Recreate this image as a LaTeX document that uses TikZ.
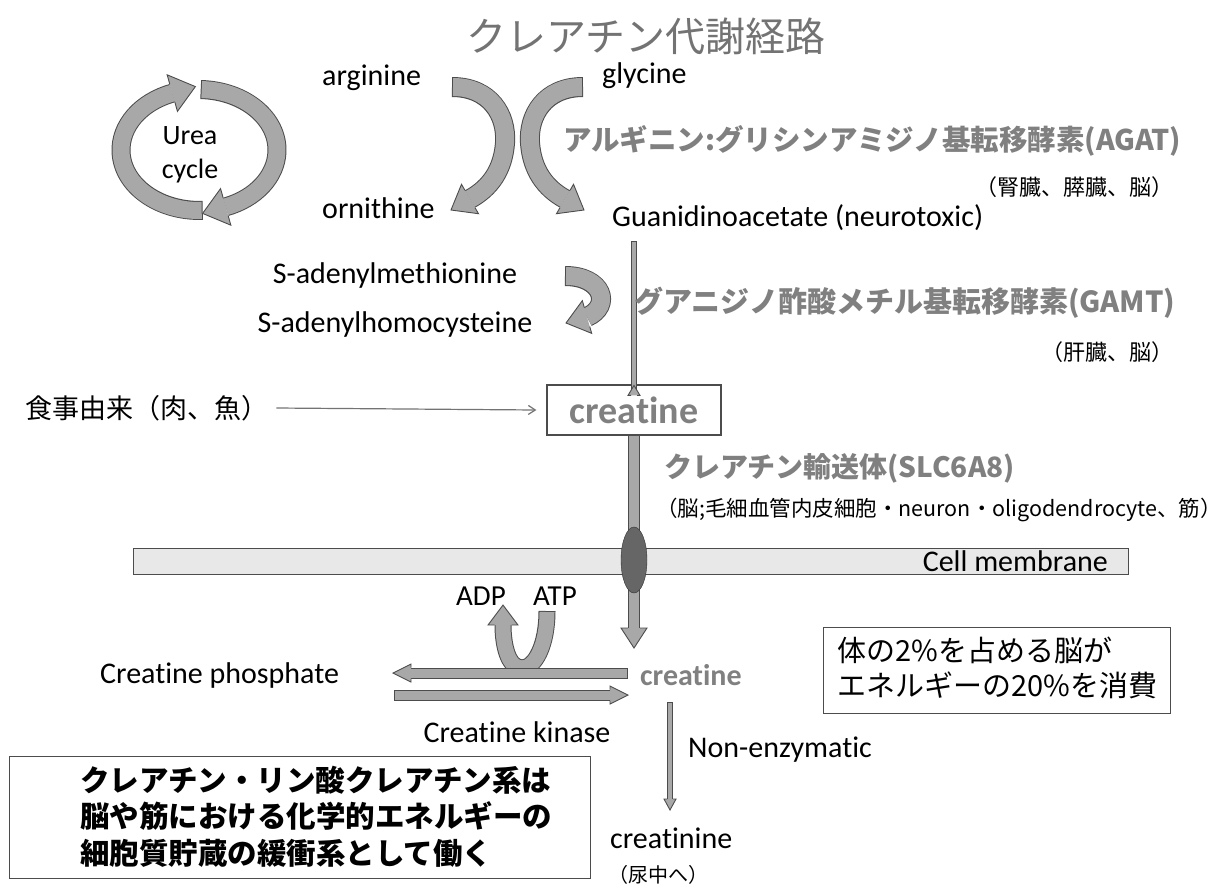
\documentclass[tikz,border=0pt]{standalone}
\usepackage{fontspec}
\setmainfont{Carlito}[Ligatures={NoCommon}]
\newfontfamily\jp{Noto Sans CJK JP}
\usetikzlibrary{arrows.meta,calc,shapes.geometric}
\definecolor{ag}{gray}{0.66}
\definecolor{ao}{gray}{0.3}
\definecolor{lg}{gray}{0.5}
\newcommand\fs[2]{\fontsize{#1}{#2}\selectfont}
\newcommand\ahead[4]{%
  \fill[ag] #2 -- ($#1!#3!90:#2$) -- ($#1!#3!-90:#2$) -- cycle;
  \draw[ao,line width=0.9pt,line join=miter] ($#1!#4!90:#2$) -- ($#1!#3!90:#2$) -- #2 -- ($#1!#3!-90:#2$) -- ($#1!#4!-90:#2$);}
\begin{document}
\begin{tikzpicture}[x=1pt,y=-1pt,
  band/.style={line width=#1, draw=ag, preaction={draw=ao, line width=#1+2, shorten <=-1pt}},
  lbl/.style={font=\fs{30}{34}, inner sep=0pt},
  jen/.style={font=\jp\bfseries\fs{28.5}{34}, text=lg, inner sep=0pt},
  jsub/.style={font=\jp\fs{22}{26}, inner sep=0pt},
  box/.style={draw=black!70, line width=1.2pt},
  thinarrow/.style={draw=black!55, line width=1.2pt, -{Straight Barb[length=7pt,width=9pt]}}]
\useasboundingbox (0,0) rectangle (1223,892);

\node[font=\jp\fs{40}{46}, text=black!55] (title) at (646,36) {クレアチン代謝経路};

% urea cycle
\draw[band=17] ({199+78*cos(88)},{150+60.5*sin(88)}) arc[start angle=88, end angle=250, x radius=78, y radius=60.5];
\draw[band=17] ({199+78*cos(272)},{150+60.5*sin(272)}) arc[start angle=272, end angle=430, x radius=78, y radius=60.5];
\ahead{(225.7,206.9)}{(202.6,213.4)}{19pt}{9.5pt}
\ahead{(172.3,93.1)}{(195.4,86.6)}{19pt}{9.5pt}
\node[lbl, font=\fs{28}{32}] (urea) at (190,136) {Urea};
\node[lbl, font=\fs{28}{32}] (cyc) at (190,171) {cycle};

\node[lbl, anchor=west] (arg) at (322,78) {arginine};
\node[lbl, anchor=west] (gly) at (602,76) {glycine};
\node[lbl, anchor=west] (orn) at (322,208) {ornithine};
\node[lbl, anchor=west] (gaa) at (612,218) {Guanidinoacetate (neurotoxic)};

\draw[band=18] (453,87) .. controls (490,87) and (507,115) .. (505,143) .. controls (503,170) and (490,188) .. (470,199);
\ahead{(470,199)}{(451,210)}{17pt}{10pt}
\draw[band=18] (582,87) .. controls (545,87) and (528,115) .. (530,143) .. controls (532,170) and (545,188) .. (565,199);
\ahead{(565,199)}{(584,210)}{17pt}{10pt}

\node[jen, anchor=west] (agat) at (563,141) {アルギニン:グリシンアミジノ基転移酵素(AGAT)};
\node[jsub, anchor=east] (agatorg) at (1174,187) {（腎臓、膵臓、脳）};

\node[box, font=\bfseries\fs{38}{42}, text=lg, minimum width=174pt, minimum height=50pt] (creat) at (634,410) {creatine};

\draw[band=4] (634,242) -- ([yshift=-11pt]creat.north);
\ahead{([yshift=-11pt]creat.north)}{([yshift=-1pt]creat.north)}{6pt}{3pt}

\node[lbl] (sam) at (395,275) {S-adenylmethionine};
\node[lbl] (sah) at (395,324) {S-adenylhomocysteine};
\draw[band=18] (566,276) .. controls (603,276) and (612,306) .. (587,317);
\ahead{(587,317)}{(566,323)}{17pt}{10pt}
\node[jen, font=\jp\bfseries\fs{29}{34}, anchor=west] (gamt) at (634,303) {グアニジノ酢酸メチル基転移酵素(GAMT)};
\node[jsub, anchor=east] (gamtorg) at (1174,352) {（肝臓、脳）};

\node[font=\jp\fs{27}{32}, anchor=west, inner sep=0pt] (food) at (25,408) {食事由来（肉、魚）};
\draw[thinarrow] ([xshift=8pt]food.east) -- ([xshift=-10pt]creat.west);

\node[jen, font=\jp\bfseries\fs{28}{32}, anchor=west] (slc) at (664,468) {クレアチン輸送体(SLC6A8)};
\node[font=\jp\fs{21.5}{25}, anchor=west, inner sep=0pt] (slcorg) at (656,510) {（脳;毛細血管内皮細胞・neuron・oligodendrocyte、筋）};

\node[draw=black!70, line width=1pt, fill=gray!18, minimum width=995pt, minimum height=26pt, inner sep=0pt, anchor=north west] (mem) at (133,548) {};
\node[lbl, anchor=east] (memtxt) at (1108,561) {Cell membrane};

\draw[band=10] (creat.south) -- (634,628);
\ahead{(634,628)}{(634,648)}{13pt}{6pt}
\node[ellipse, draw=black!80, fill=black!60, minimum width=26pt, minimum height=66pt, inner sep=0pt] (transp) at (634,560) {};

\node[lbl, font=\fs{29}{33}] (adp) at (481,596) {ADP};
\node[lbl, font=\fs{29}{33}] (atp) at (555,596) {ATP};
\draw[band=15] (547,612) .. controls (547,645) and (535,668) .. (522,668) .. controls (508,668) and (503,645) .. (503,625);
\ahead{(503,625)}{(503,605)}{15pt}{8.5pt}

\draw[band=9] (627,673) -- (411,673);
\ahead{(411,673)}{(393,673)}{9pt}{5.5pt}
\draw[band=9] (395,695) -- (610,695);
\ahead{(610,695)}{(628,695)}{9pt}{5.5pt}

\node[lbl, anchor=west] (cp) at (100,675) {Creatine phosphate};
\node[lbl, font=\bfseries\fs{30}{34}, text=lg, anchor=west] (creat2) at (640,675) {creatine};
\node[lbl] (ck) at (517,732) {Creatine kinase};

\draw[band=4] (670,703) -- (670,799);
\ahead{(670,799)}{(670,810)}{6pt}{3pt}
\node[lbl, anchor=west] (nonenz) at (688,750) {Non-enzymatic};
\node[lbl, anchor=west] (crn) at (610,838) {creatinine};
\node[font=\jp\fs{20}{24}, anchor=west, inner sep=0pt] (urine) at (608,875) {（尿中へ）};

\node[box, line width=1pt, minimum width=347pt, minimum height=86pt, inner sep=0pt, anchor=north west] (bx1) at (823,627) {};
\node[font=\jp\fs{29}{35}, align=left, anchor=west, inner sep=0pt] (bx1txt) at (837,667.5) {体の2\%を占める脳が\\エネルギーの20\%を消費};

\node[box, line width=1.2pt, minimum width=581pt, minimum height=122pt, inner sep=0pt, anchor=north west] (bx2) at (9,756) {};
\node[font=\jp\bfseries\fs{29.5}{36.5}, align=left, anchor=west, inner sep=0pt] (bx2txt) at (80,816.5) {クレアチン・リン酸クレアチン系は\\脳や筋における化学的エネルギーの\\細胞質貯蔵の緩衝系として働く};
\end{tikzpicture}
\end{document}
